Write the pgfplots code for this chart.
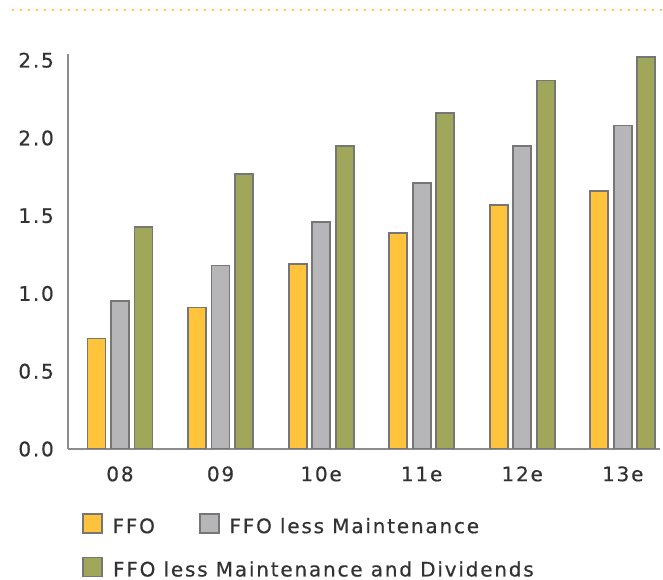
\documentclass[border=0pt]{standalone}
\usepackage{fontspec}
\setmainfont{DejaVu Sans}[LetterSpace=9, FakeBold=0.5]
\usepackage{pgfplots}
\pgfplotsset{compat=1.18}
\definecolor{cffo}{RGB}{255,196,59}
\definecolor{cgray}{RGB}{182,182,184}
\definecolor{cgreen}{RGB}{160,167,91}
\definecolor{cborder}{RGB}{118,118,118}
\definecolor{caxis}{RGB}{140,140,140}
\definecolor{ctext}{RGB}{50,50,50}
\definecolor{cdots}{RGB}{255,200,70}
\begin{document}
\begin{tikzpicture}[font=\fontsize{20}{24}\selectfont, x=1pt, y=1pt]
\begin{axis}[
  at={(68pt,131pt)}, anchor=south west,
  scale only axis, width=592pt, height=395pt,
  xmin=-0.517, xmax=5.37, ymin=0, ymax=2.54,
  axis lines*=left,
  axis line style={draw=caxis, line width=1.6pt, -},
  major tick length=0pt,
  xtick={0,1,2,3,4,5},
  xticklabels={08,09,10e,11e,12e,13e},
  ytick={0,0.5,1,1.5,2,2.5},
  yticklabel={\pgfmathprintnumber[fixed,fixed zerofill,precision=1]{\tick}},
  /pgf/number format/assume math mode=true,
  tick label style={text=ctext, inner sep=0pt},
  yticklabel style={anchor=east, xshift=-14pt},
  xticklabel style={anchor=north, yshift=-17pt, text height=15pt, text depth=0pt},
  ybar=5.5pt, bar width=18pt,
  every axis plot/.append style={draw=cborder, line width=1.8pt},
  legend image code/.code={\draw[#1, line width=1.6pt] (0pt,0pt) rectangle (19pt,19pt);},
  legend style={at={(0.0236,-0.163)}, anchor=north west, draw=none, fill=none,
    inner sep=0pt, outer sep=0pt, text=ctext,
    legend columns=2, row sep=22pt,
    nodes={inner sep=0pt, anchor=base west},
    /tikz/every odd column/.append style={column sep=10pt},
    /tikz/every even column/.append style={column sep=44pt}},
]
\addplot[fill=cffo] coordinates {(0,0.71) (1,0.91) (2,1.19) (3,1.39) (4,1.57) (5,1.66)};
\addplot[fill=cgray] coordinates {(0,0.95) (1,1.18) (2,1.46) (3,1.71) (4,1.95) (5,2.08)};
\addplot[fill=cgreen] coordinates {(0,1.43) (1,1.77) (2,1.95) (3,2.16) (4,2.37) (5,2.52)};
\legend{FFO,FFO less Maintenance,\makebox[0pt][l]{FFO less Maintenance and Dividends}}
\end{axis}
\draw[cdots, line width=2pt, dash pattern=on 2pt off 6pt] (12pt,570pt) -- (663pt,570pt);
\pgfresetboundingbox
\path[use as bounding box] (0pt,0pt) rectangle (663pt,580pt);
\end{tikzpicture}
\end{document}
